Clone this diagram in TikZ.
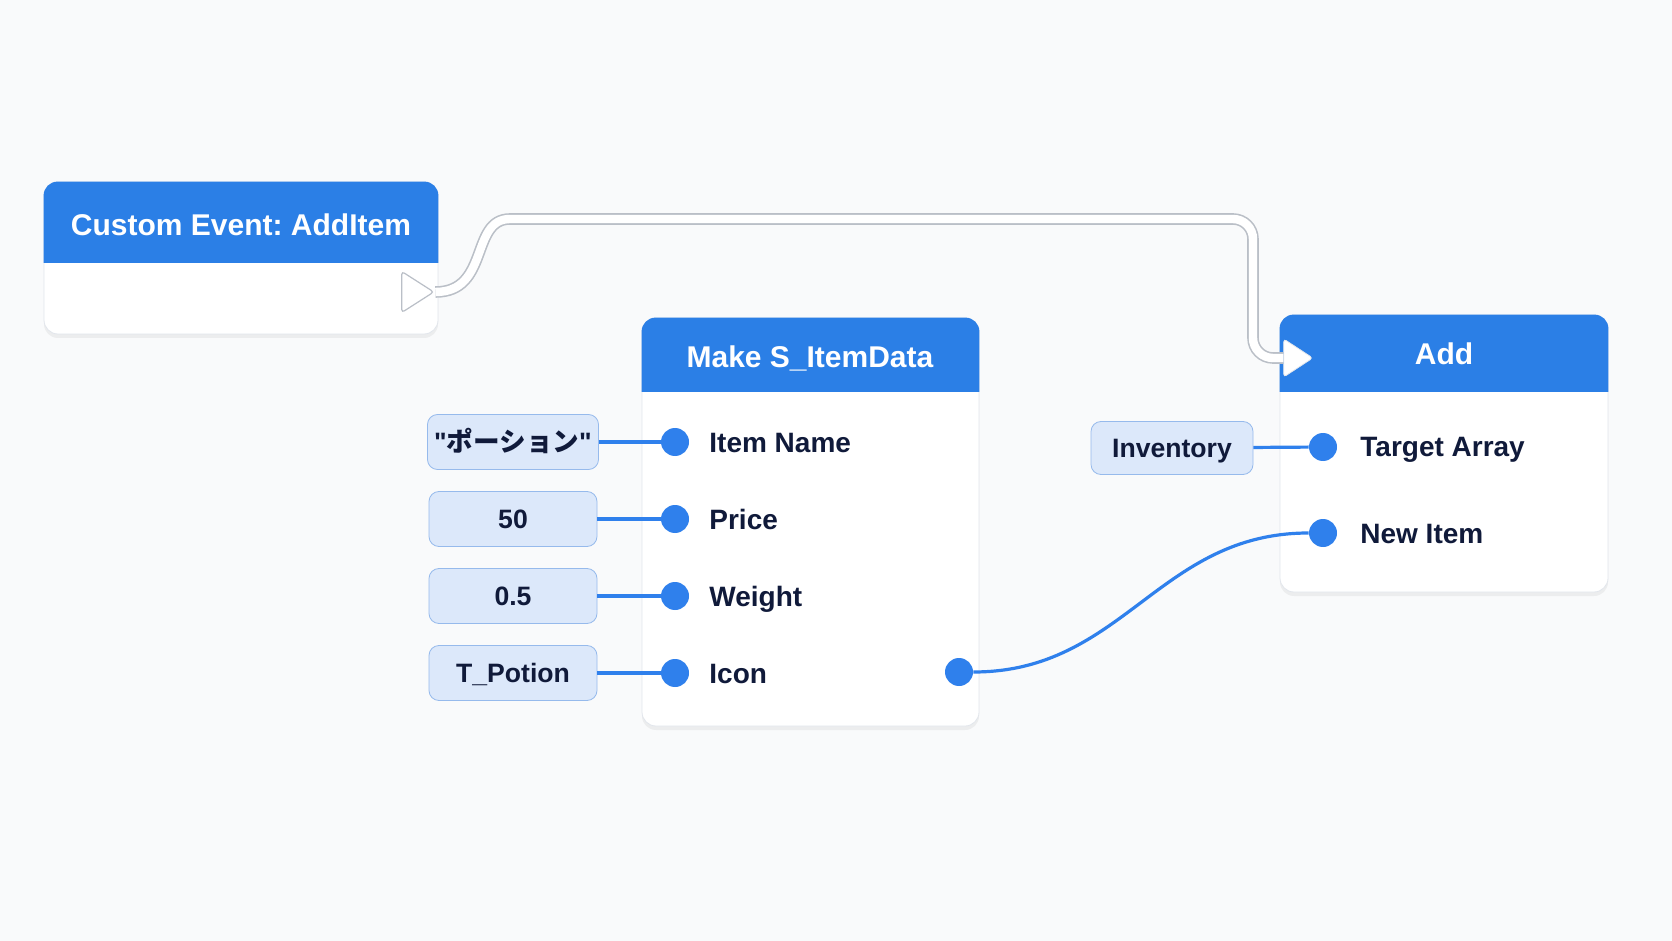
\documentclass[tikz,border=0pt]{standalone}
\usepackage{fontspec}
\setmainfont{Liberation Sans}[Ligatures=TeXOff]
\newfontfamily\jpfont{Noto Sans CJK JP}
\frenchspacing
\usetikzlibrary{positioning,calc,shapes.geometric,shadows}
\definecolor{bgPaper}{RGB}{249,250,251}
\definecolor{hdrBlue}{RGB}{43,127,230}
\definecolor{pinBlue}{RGB}{47,128,236}
\definecolor{txtNavy}{RGB}{16,26,58}
\definecolor{litFill}{RGB}{220,232,250}
\definecolor{litLine}{RGB}{150,186,236}
\definecolor{cardLine}{RGB}{226,230,236}
\definecolor{execLine}{RGB}{186,191,199}
\tikzset{
  card/.style={rectangle, rounded corners=7pt, draw=cardLine, fill=white,
               drop shadow={shadow xshift=0pt, shadow yshift=-2pt, opacity=0.10}},
  hdrtext/.style={text=white, font=\fontsize{15}{18}\selectfont\bfseries,
                  text height=10.7pt, text depth=0pt, inner sep=0pt},
  pindot/.style={circle, fill=pinBlue, minimum size=14pt, inner sep=0pt},
  pinlabel/.style={anchor=west, text=txtNavy, font=\fontsize{14}{17}\selectfont\bfseries,
                   text height=10pt, text depth=0pt, inner sep=0pt},
  litbox/.style={rectangle, rounded corners=5pt, draw=litLine, fill=litFill,
                 minimum width=84pt, minimum height=27.5pt, text=txtNavy,
                 font=\fontsize{13.3}{16}\selectfont\bfseries, text height=9.5pt, text depth=0pt},
  datawire/.style={draw=pinBlue, line width=1.6pt},
  execwire/.style={draw=execLine, line width=0.8pt, double=white, double distance=4.2pt},
  exectri/.style={isosceles triangle, isosceles triangle stretches, rounded corners=1.5pt,
                  fill=white, inner sep=0pt},
}

\begin{document}
\begin{tikzpicture}[x=0.5pt, y=-0.5pt]
  \useasboundingbox (0,0) rectangle (1672,941);
  \fill[bgPaper] (0,0) rectangle (1672,941);

  % event card
  \node[card, minimum width=197pt, minimum height=76pt] (evt) at (241,258) {};
  \fill[hdrBlue] (evt.west |- 0,263) -- ([yshift=-7pt]evt.north west) arc[start angle=180, end angle=90, radius=7pt]
    -- ([xshift=-7pt]evt.north east) arc[start angle=90, end angle=0, radius=7pt] -- (evt.east |- 0,263) -- cycle;
  \node[hdrtext] (evt-title) at (241,225) {Custom Event: AddItem};
  \node[exectri, draw=execLine, line width=0.6pt, minimum width=20.5pt, minimum height=16pt] (evt-exec) at (413,292) {};

  % make struct card
  \node[card, minimum width=168.5pt, minimum height=204pt] (mk) at (810.5,522) {};
  \fill[hdrBlue] (mk.west |- 0,392) -- ([yshift=-7pt]mk.north west) arc[start angle=180, end angle=90, radius=7pt]
    -- ([xshift=-7pt]mk.north east) arc[start angle=90, end angle=0, radius=7pt] -- (mk.east |- 0,392) -- cycle;
  \node[hdrtext] (mk-title) at (810,357) {Make S\_ItemData};
  \foreach \key/\yy/\val/\lbl in {name/442/{"{\jpfont ポーション}"}/Item Name,
                                   price/519/50/Price, weight/596/0.5/Weight,
                                   icon/673/T\_Potion/Icon} {
    \node[pindot] (mk-\key) at (675,\yy) {};
    \node[pinlabel] (mk-\key-lbl) at (709,\yy) {\lbl};
    \node[litbox] (lit-\key) at (513,\yy) {\val};
    \draw[datawire] (lit-\key) -- (mk-\key);
  }
  \node[pindot] (mk-out) at (959,672) {};

  % add card
  \node[card, minimum width=164pt, minimum height=138.5pt] (add) at (1444,453.5) {};
  \fill[hdrBlue] (add.west |- 0,392) -- ([yshift=-7pt]add.north west) arc[start angle=180, end angle=90, radius=7pt]
    -- ([xshift=-7pt]add.north east) arc[start angle=90, end angle=0, radius=7pt] -- (add.east |- 0,392) -- cycle;
  \node[hdrtext] (add-title) at (1444,354) {Add};
  \node[exectri, draw=cardLine, line width=0.4pt, minimum width=19pt, minimum height=14.5pt] (add-exec) at (1294,358) {};
  \node[pindot] (add-target) at (1323,447) {};
  \node[pinlabel] (add-target-lbl) at (1360,447) {Target Array};
  \node[pindot] (add-item) at (1323,533) {};
  \node[pinlabel] (add-item-lbl) at (1360,533) {New Item};
  \node[litbox, minimum width=81pt, minimum height=26.5pt] (inv) at (1172,448) {Inventory};

  % wires
  \draw[datawire] (inv) -- (add-target);
  \draw[datawire] (mk-out.east) .. controls +(150,0) and +(-150,0) .. (add-item.west);
  \draw[execwire, rounded corners=10pt] (evt-exec.east) .. controls (490,292) and (470,219) .. (530,219)
    -- (1253,219) -- (1253,358) -- (add-exec.west);
\end{tikzpicture}
\end{document}
